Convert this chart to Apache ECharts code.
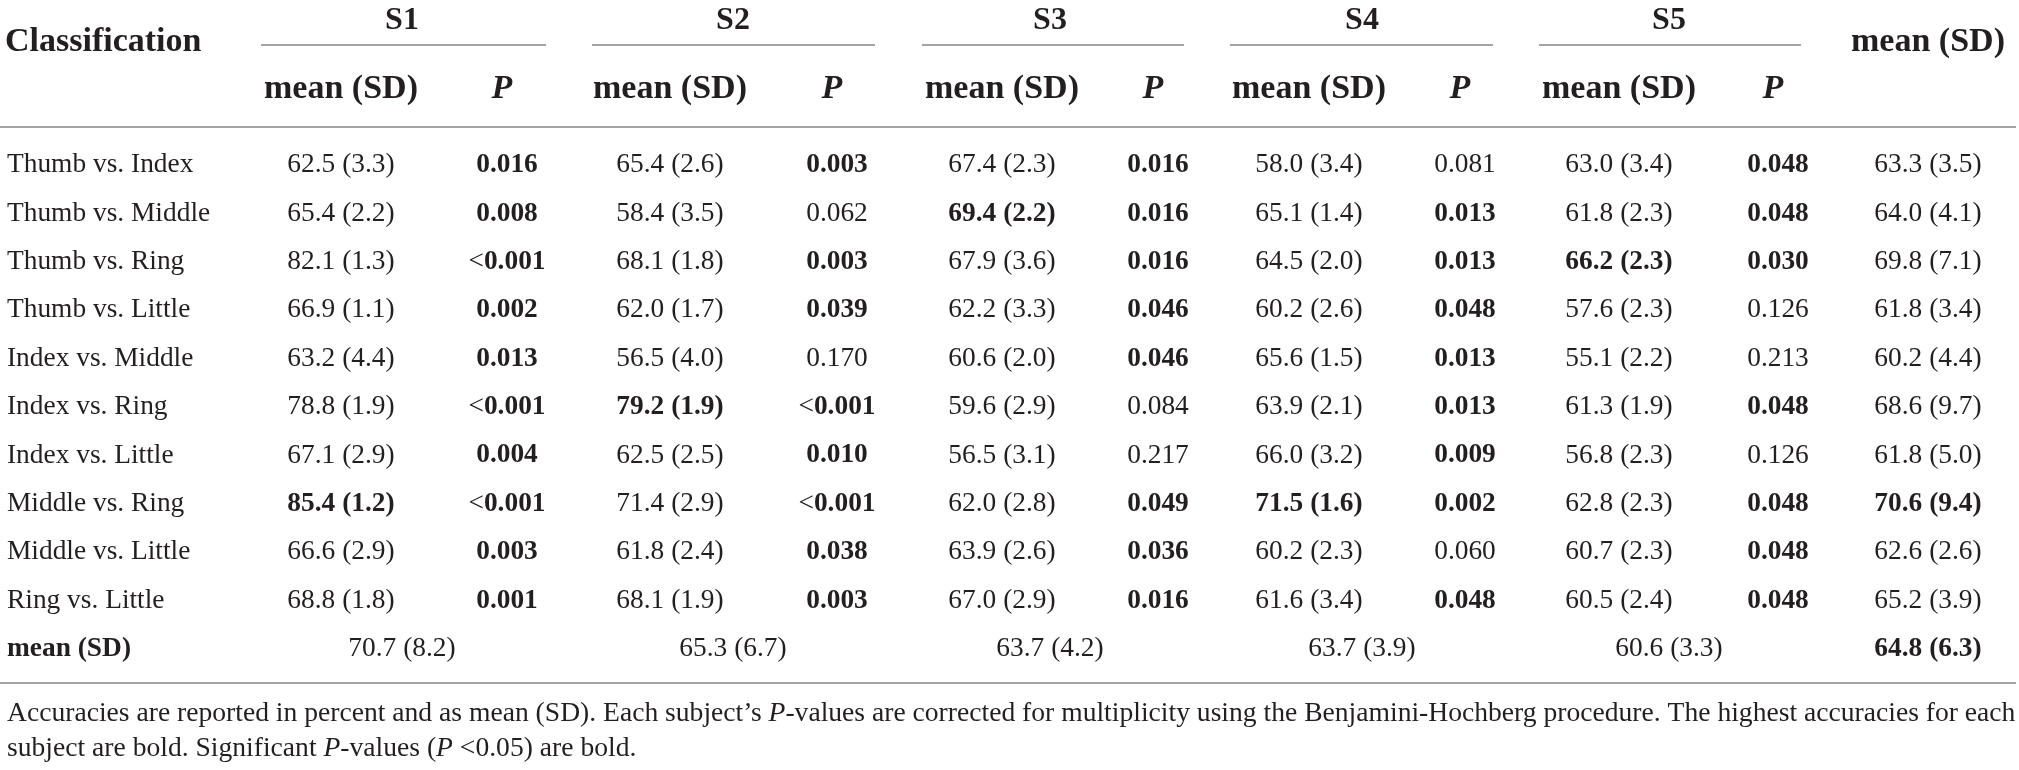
<!DOCTYPE html>
<html lang="en">
<head>
    <meta charset="UTF-8">
    <title>Classification accuracy table</title>
    <style>
        html, body { margin: 0; padding: 0; background: #fff; }
    </style>
</head>
<body>
    <div id="main" style="width: 2019px;height:770px;"></div>
    <script src="https://cdn.jsdelivr.net/npm/echarts@6/dist/echarts.min.js"></script>
    <script type="text/javascript">
        var myChart = echarts.init(document.getElementById('main'));

        // rows of the table
        var rowLabels = ['Thumb vs. Index', 'Thumb vs. Middle', 'Thumb vs. Ring', 'Thumb vs. Little',
            'Index vs. Middle', 'Index vs. Ring', 'Index vs. Little', 'Middle vs. Ring',
            'Middle vs. Little', 'Ring vs. Little'];
        var subjects = ['S1', 'S2', 'S3', 'S4', 'S5'];

        // per subject: mean accuracy, SD, corrected P
        var meanS1 = [62.5, 65.4, 82.1, 66.9, 63.2, 78.8, 67.1, 85.4, 66.6, 68.8];
        var sdS1 = [3.3, 2.2, 1.3, 1.1, 4.4, 1.9, 2.9, 1.2, 2.9, 1.8];
        var pS1 = ['0.016', '0.008', '<0.001', '0.002', '0.013', '<0.001', '0.004', '<0.001', '0.003', '0.001'];

        var meanS2 = [65.4, 58.4, 68.1, 62.0, 56.5, 79.2, 62.5, 71.4, 61.8, 68.1];
        var sdS2 = [2.6, 3.5, 1.8, 1.7, 4.0, 1.9, 2.5, 2.9, 2.4, 1.9];
        var pS2 = ['0.003', '0.062', '0.003', '0.039', '0.170', '<0.001', '0.010', '<0.001', '0.038', '0.003'];

        var meanS3 = [67.4, 69.4, 67.9, 62.2, 60.6, 59.6, 56.5, 62.0, 63.9, 67.0];
        var sdS3 = [2.3, 2.2, 3.6, 3.3, 2.0, 2.9, 3.1, 2.8, 2.6, 2.9];
        var pS3 = ['0.016', '0.016', '0.016', '0.046', '0.046', '0.084', '0.217', '0.049', '0.036', '0.016'];

        var meanS4 = [58.0, 65.1, 64.5, 60.2, 65.6, 63.9, 66.0, 71.5, 60.2, 61.6];
        var sdS4 = [3.4, 1.4, 2.0, 2.6, 1.5, 2.1, 3.2, 1.6, 2.3, 3.4];
        var pS4 = ['0.081', '0.013', '0.013', '0.048', '0.013', '0.013', '0.009', '0.002', '0.060', '0.048'];

        var meanS5 = [63.0, 61.8, 66.2, 57.6, 55.1, 61.3, 56.8, 62.8, 60.7, 60.5];
        var sdS5 = [3.4, 2.3, 2.3, 2.3, 2.2, 1.9, 2.3, 2.3, 2.3, 2.4];
        var pS5 = ['0.048', '0.048', '0.030', '0.126', '0.213', '0.048', '0.126', '0.048', '0.048', '0.048'];

        // mean over subjects per row, and per subject over rows
        var rowMean = [63.3, 64.0, 69.8, 61.8, 60.2, 68.6, 61.8, 70.6, 62.6, 65.2];
        var rowSd = [3.5, 4.1, 7.1, 3.4, 4.4, 9.7, 5.0, 9.4, 2.6, 3.9];
        var subjMean = [70.7, 65.3, 63.7, 63.7, 60.6];
        var subjSd = [8.2, 6.7, 4.2, 3.9, 3.3];
        var totalMean = 64.8, totalSd = 6.3;

        var meanBySubj = [meanS1, meanS2, meanS3, meanS4, meanS5];
        var sdBySubj = [sdS1, sdS2, sdS3, sdS4, sdS5];
        var pBySubj = [pS1, pS2, pS3, pS4, pS5];

        // layout (pixels along the hidden x axis)
        var colX = [341, 507, 670, 837, 1002, 1158, 1309, 1465, 1619, 1778, 1928];
        var subjX = [402, 733, 1050, 1362, 1669];
        var subjLine = [[261, 546], [592, 875], [922, 1184], [1230, 1493], [1539, 1801]];
        var INK = '#231f20';
        var FAM = '"Liberation Serif", "Times New Roman", serif';
        var BODY = 27.4, HEAD = 34, SUBJ = 32, NOTE = 27.6;

        var fmt = function (m, s) { return m.toFixed(1) + ' (' + s.toFixed(1) + ')'; };
        var pNum = function (p) { return p.charAt(0) === '<' ? 0 : parseFloat(p); };
        var argMax = function (a) { var k = 0; a.forEach(function (v, i) { if (v > a[k]) k = i; }); return k; };

        var yCats = rowLabels.concat(['mean (SD)']);
        var cells = [];
        var seriesData = [];
        var push = function (x, r, c) { cells.push(c); seriesData.push([x, r]); };

        rowLabels.forEach(function (lab, r) {
            push(7, r, { text: lab, align: 'left' });
        });
        push(7, 10, { text: 'mean (SD)', align: 'left', bold: true });

        subjects.forEach(function (s, k) {
            var best = argMax(meanBySubj[k]);
            rowLabels.forEach(function (lab, r) {
                push(colX[2 * k], r, { text: fmt(meanBySubj[k][r], sdBySubj[k][r]), align: 'center', bold: r === best });
                var p = pBySubj[k][r];
                var sig = pNum(p) < 0.05;
                if (p.charAt(0) === '<') {
                    push(colX[2 * k + 1], r, { text: '{n|<}{b|' + p.slice(1) + '}', align: 'center', rich: true });
                } else {
                    push(colX[2 * k + 1], r, { text: p, align: 'center', bold: sig });
                }
            });
            push(subjX[k], 10, { text: fmt(subjMean[k], subjSd[k]), align: 'center' });
        });
        var bestRow = argMax(rowMean);
        rowLabels.forEach(function (lab, r) {
            push(colX[10], r, { text: fmt(rowMean[r], rowSd[r]), align: 'center', bold: r === bestRow });
        });
        push(colX[10], 10, { text: fmt(totalMean, totalSd), align: 'center', bold: true });

        var richP = {
            n: { fontSize: BODY, fontFamily: FAM, fontWeight: 'normal', fill: INK },
            b: { fontSize: BODY, fontFamily: FAM, fontWeight: 'bold', fill: INK }
        };

        // header + rules + footnote
        var graphics = [];
        var headText = function (x, y, txt, align, size, italic) {
            graphics.push({
                type: 'text', silent: true,
                style: {
                    text: txt, x: x, y: y, align: align, verticalAlign: 'middle', fill: INK,
                    font: (italic ? 'italic ' : '') + 'bold ' + size + 'px ' + FAM
                }
            });
        };
        var rule = function (x1, x2, y) {
            graphics.push({
                type: 'line', silent: true,
                shape: { x1: x1, y1: y, x2: x2, y2: y },
                style: { stroke: '#a3a3a3', lineWidth: 2 }
            });
        };
        headText(5, 42, 'Classification', 'left', HEAD);
        headText(1928, 42, 'mean (SD)', 'center', HEAD);
        subjects.forEach(function (s, k) {
            headText(subjX[k], 21, s, 'center', SUBJ);
            rule(subjLine[k][0], subjLine[k][1], 45);
            headText(colX[2 * k], 89, 'mean (SD)', 'center', HEAD);
            headText(colX[2 * k + 1] - 5, 89, 'P', 'center', HEAD, true);
        });
        rule(0, 2016, 127);
        rule(0, 2016, 683);

        var noteRich = {
            r: { fontSize: NOTE, fontFamily: FAM, fill: INK },
            i: { fontSize: NOTE, fontFamily: FAM, fontStyle: 'italic', fill: INK }
        };
        graphics.push({
            type: 'text', silent: true,
            style: {
                x: 7, y: 714, verticalAlign: 'middle', rich: noteRich,
                text: '{r|Accuracies are reported in percent and as mean (SD). Each subject\u2019s }{i|P}{r|-values are corrected for multiplicity using the Benjamini-Hochberg procedure. The highest accuracies for each}'
            }
        });
        graphics.push({
            type: 'text', silent: true,
            style: {
                x: 7, y: 749, verticalAlign: 'middle', rich: noteRich,
                text: '{r|subject are bold. Significant }{i|P}{r|-values (}{i|P}{r| <0.05) are bold.}'
            }
        });

        var option = {
            animation: false,
            grid: { left: 0, right: 0, top: 141, bottom: 97 },
            xAxis: { type: 'value', min: 0, max: 2019, show: false },
            yAxis: { type: 'category', data: yCats, inverse: true, show: false },
            graphic: graphics,
            series: [{
                type: 'custom',
                silent: true,
                data: seriesData,
                renderItem: function (params, api) {
                    var c = cells[params.dataIndex];
                    var pt = api.coord([api.value(0), api.value(1)]);
                    return {
                        type: 'text',
                        style: {
                            text: c.text, x: pt[0], y: pt[1],
                            align: c.align, verticalAlign: 'middle', fill: INK,
                            font: (c.bold ? 'bold ' : '') + BODY + 'px ' + FAM,
                            rich: c.rich ? richP : null
                        }
                    };
                }
            }]
        };

        myChart.setOption(option);
    </script>
</body>
</html>
